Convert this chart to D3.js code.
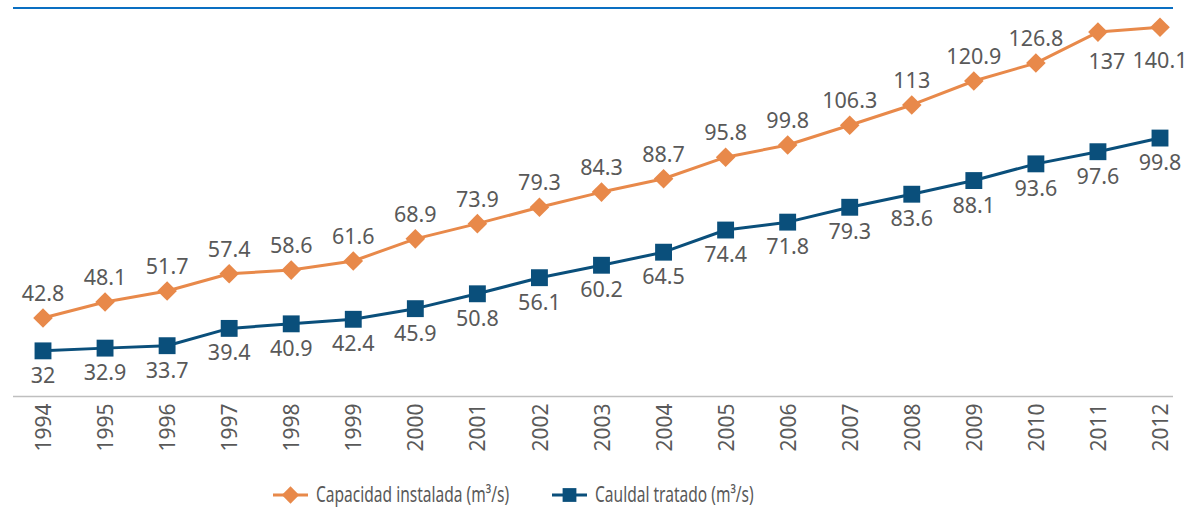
<!DOCTYPE html>
<html>
<head>
<meta charset="utf-8">
<script src="https://cdn.jsdelivr.net/npm/d3@7"></script>
<style>
  html, body { margin: 0; padding: 0; background: #ffffff; }
  svg { display: block; font-family: "Noto Sans", "Open Sans", sans-serif; }
</style>
</head>
<body>
<svg id="chart" width="1188" height="516"></svg>
<script>
// ---- data ----
const years = ["1994","1995","1996","1997","1998","1999","2000","2001","2002","2003",
               "2004","2005","2006","2007","2008","2009","2010","2011","2012"];
// marker positions
const capacidadValues = [42.8,48.1,51.7,57.4,58.6,61.6,68.9,73.9,79.3,84.3,
                         88.7,95.8,99.8,106.3,113,120.9,126.8,137,138.6];
// printed data labels
const capacidadLabels = ["42.8","48.1","51.7","57.4","58.6","61.6","68.9","73.9","79.3","84.3",
                         "88.7","95.8","99.8","106.3","113","120.9","126.8","137","140.1"];
const caudalValues = [32,32.9,33.7,39.4,40.9,42.4,45.9,50.8,56.1,60.2,
                      64.5,71.8,74.4,79.3,83.6,88.1,93.6,97.6,102.1];
const caudalLabels = ["32","32.9","33.7","39.4","40.9","42.4","45.9","50.8","56.1","60.2",
                      "64.5","74.4","71.8","79.3","83.6","88.1","93.6","97.6","99.8"];
const seriesNames = ["Capacidad instalada (m³/s)", "Cauldal tratado (m³/s)"];

// ---- styles ----
const ORANGE = "#E8894A";
const BLUE = "#0A4F7B";
const TEXT = "#595959";

const svg = d3.select("#chart");

const x = d3.scalePoint().domain(years).range([43, 1160]);
const y = d3.scaleLinear().domain([0, 140]).range([448, 23]);

// top decorative rule
svg.append("line")
  .attr("x1", 13).attr("x2", 1173).attr("y1", 8).attr("y2", 8)
  .attr("stroke", "#0A6FC2").attr("stroke-width", 2);

// x axis
const axisY = 396.5;
const gx = svg.append("g").attr("transform", `translate(0,${axisY})`)
  .call(d3.axisBottom(x).tickSize(0).tickSizeOuter(0));
gx.select(".domain").remove();
gx.selectAll("text")
  .attr("fill", TEXT)
  .style("font-size", "21px")
  .style("font-family", "'Noto Sans', sans-serif")
  .attr("text-anchor", "end")
  .attr("transform", "rotate(-90)")
  .attr("x", -7)
  .attr("y", 0)
  .attr("dy", "0.36em")
  .attr("dx", 0);
svg.append("line")
  .attr("x1", 13).attr("x2", 1173).attr("y1", axisY).attr("y2", axisY)
  .attr("stroke", "#BFBFBF").attr("stroke-width", 1.5);

const line = d3.line().x((d, i) => x(years[i])).y(d => y(d));

// capacidad series
svg.append("path").datum(capacidadValues)
  .attr("d", line).attr("fill", "none")
  .attr("stroke", ORANGE).attr("stroke-width", 3).attr("stroke-linejoin", "round");
// caudal series
svg.append("path").datum(caudalValues)
  .attr("d", line).attr("fill", "none")
  .attr("stroke", BLUE).attr("stroke-width", 3).attr("stroke-linejoin", "round");

const diamond = d3.symbol().type(d3.symbolDiamond2).size(245);
const square = d3.symbol().type(d3.symbolSquare).size(285);

svg.append("g").selectAll("path").data(capacidadValues).join("path")
  .attr("d", diamond)
  .attr("transform", (d, i) => `translate(${x(years[i])},${y(d)})`)
  .attr("fill", ORANGE);

svg.append("g").selectAll("path").data(caudalValues).join("path")
  .attr("d", square)
  .attr("transform", (d, i) => `translate(${x(years[i])},${y(d)})`)
  .attr("fill", BLUE);

// data labels
svg.append("g").selectAll("text").data(capacidadValues).join("text")
  .attr("x", (d, i) => x(years[i]) + (i === 17 ? 9 : 0))
  .attr("y", (d, i) => i >= 17 ? y(d) + 37 + (i === 18 ? 4 : 0) : y(d) - 17)
  .attr("text-anchor", "middle")
  .attr("fill", TEXT)
  .style("font-size", "21.5px")
  .text((d, i) => capacidadLabels[i]);

svg.append("g").selectAll("text").data(caudalValues).join("text")
  .attr("x", (d, i) => x(years[i]))
  .attr("y", (d, i) => y(d) + 32)
  .attr("text-anchor", "middle")
  .attr("fill", TEXT)
  .style("font-size", "21.5px")
  .text((d, i) => caudalLabels[i]);

// legend
const legend = [
  { name: seriesNames[0], color: ORANGE, sym: d3.symbol().type(d3.symbolDiamond2).size(190), x0: 273 },
  { name: seriesNames[1], color: BLUE, sym: d3.symbol().type(d3.symbolSquare).size(190), x0: 552 }
];
const ly = 495;
const lg = svg.append("g").selectAll("g").data(legend).join("g")
  .attr("transform", d => `translate(${d.x0},${ly})`);
lg.append("line").attr("x1", 0).attr("x2", 35).attr("y1", 0).attr("y2", 0)
  .attr("stroke", d => d.color).attr("stroke-width", 3);
lg.append("path").attr("d", d => d.sym())
  .attr("transform", "translate(17.5,0)")
  .attr("fill", d => d.color);
lg.append("text")
  .attr("transform", "translate(43,0) scale(0.74,1)")
  .attr("dy", "0.35em")
  .attr("fill", TEXT)
  .style("font-size", "21px")
  .text(d => d.name);
</script>
</body>
</html>
